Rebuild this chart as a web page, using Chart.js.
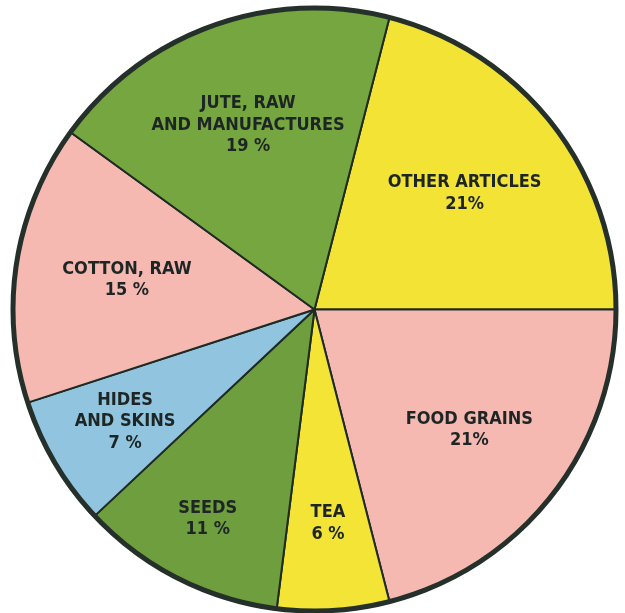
<!DOCTYPE html>
<html>
<head>
<meta charset="utf-8">
<script src="https://cdn.jsdelivr.net/npm/chart.js@4.4.1/dist/chart.umd.min.js"></script>
<style>
    html, body { margin: 0; padding: 0; background: #ffffff; }
    #wrap { width: 625px; height: 613px; position: relative; }
</style>
</head>
<body>
<div id="wrap"><canvas id="pie"></canvas></div>
<script>
// slices clockwise, starting from the top right
const categories = [
    ['OTHER ARTICLES'],
    ['FOOD GRAINS'],
    ['TEA'],
    ['SEEDS'],
    ['HIDES', 'AND SKINS'],
    ['COTTON, RAW'],
    ['JUTE, RAW', 'AND MANUFACTURES']
];
const shares = [21, 21, 6, 11, 7, 15, 19];
const shareLabels = ['21%', '21%', '6 %', '11 %', '7 %', '15 %', '19 %'];

const sliceColors = ['#f2e334', '#f5b9b2', '#f3e436', '#6f9e3e', '#91c4df', '#f5b9b2', '#76a640'];
// how far out from the centre each label sits (fraction of radius)
const labelRadius = [0.63, 0.65, 0.71, 0.78, 0.73, 0.63, 0.65];

const labelPlugin = {
    id: 'sliceLabels',
    afterDatasetsDraw(chart) {
        const ctx = chart.ctx;
        const arcs = chart.getDatasetMeta(0).data;
        const a0 = arcs[0];
        // thick outer rim
        ctx.save();
        ctx.beginPath();
        ctx.arc(a0.x, a0.y, a0.outerRadius, 0, Math.PI * 2);
        ctx.lineWidth = 5;
        ctx.strokeStyle = '#25302b';
        ctx.stroke();

        ctx.fillStyle = '#1d2624';
        ctx.textAlign = 'center';
        ctx.textBaseline = 'middle';
        ctx.font = 'bold 18px "Liberation Sans Narrow", "DejaVu Sans Condensed", sans-serif';
        arcs.forEach((arc, i) => {
            const mid = (arc.startAngle + arc.endAngle) / 2;
            const r = arc.outerRadius * labelRadius[i];
            const cx = arc.x + Math.cos(mid) * r;
            const cy = arc.y + Math.sin(mid) * r;
            const lines = categories[i].concat([shareLabels[i]]);
            const lh = 21.5;
            const top = cy - (lines.length - 1) * lh / 2;
            lines.forEach((t, k) => ctx.fillText(t, cx, top + k * lh));
        });
        ctx.restore();
    }
};

new Chart(document.getElementById('pie'), {
    type: 'pie',
    data: {
        labels: categories.map(c => c.join(' ')),
        datasets: [{
            data: shares,
            backgroundColor: sliceColors,
            borderColor: '#1e2a24',
            borderWidth: 2,
            borderAlign: 'center'
        }]
    },
    options: {
        responsive: true,
        maintainAspectRatio: false,
        animation: false,
        rotation: 14.4,
        layout: { padding: { left: 12, right: 8, top: 6, bottom: 0 } },
        plugins: {
            legend: { display: false },
            tooltip: { enabled: false }
        }
    },
    plugins: [labelPlugin]
});
</script>
</body>
</html>
